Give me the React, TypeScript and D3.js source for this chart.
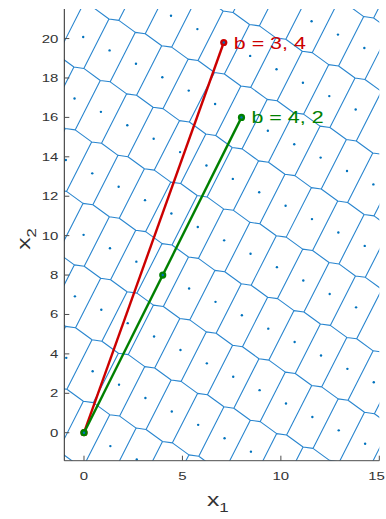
import { useEffect, useRef } from 'react';
import * as d3 from 'd3';

// lattice basis
const basisU = [1.78, 2.44];
const basisV = [0.44, 3.12];

// the two coefficient vectors drawn from the origin
const vectorNames = ['b = 3, 4', 'b = 4, 2'];
const vectorCoeffs = [[3, 4], [4, 2]];
const vectorColors = ['#cc0000', '#008000'];

const xTicks = [0, 5, 10, 15];
const yTicks = [0, 2, 4, 6, 8, 10, 12, 14, 16, 18, 20];
const xDomain = [-1, 15];
const yDomain = [-1.42, 21.5];

const W = 386;
const H = 519;
const STRETCH = 1.3;

const gcd = (a: number, b: number): number => (b === 0 ? Math.abs(a) : gcd(b, a % b));

const App = () => {
  const svgRef = useRef<SVGSVGElement>(null);

  useEffect(() => {
    const svg = d3.select(svgRef.current);
    svg.selectAll('*').remove();

    const left = 64.3, right = 379.3, top = 9, bottom = 460.7;

    const x = d3.scaleLinear().domain(xDomain).range([left, right]);
    const y = d3.scaleLinear().domain(yDomain).range([bottom, top]);

    // lattice points, a bit past the view so the cells are right at the edges
    const pts: [number, number][] = [];
    for (let a = -25; a <= 25; a++) {
      for (let b = -25; b <= 25; b++) {
        const px = a * basisU[0] + b * basisV[0];
        const py = a * basisU[1] + b * basisV[1];
        if (px > xDomain[0] - 5 && px < xDomain[1] + 5 && py > yDomain[0] - 6 && py < yDomain[1] + 6) {
          pts.push([px, py]);
        }
      }
    }
    const screen = pts.map(p => [x(p[0]), y(p[1])] as [number, number]);

    svg.append('defs').append('clipPath').attr('id', 'plotclip')
      .append('rect').attr('x', left).attr('y', top)
      .attr('width', right - left).attr('height', bottom - top);

    const plot = svg.append('g').attr('clip-path', 'url(#plotclip)');

    const voronoi = d3.Delaunay.from(screen).voronoi([left - 200, top - 200, right + 200, bottom + 200]);
    plot.append('path')
      .attr('d', voronoi.render())
      .attr('fill', 'none')
      .attr('stroke', '#2a86cf')
      .attr('stroke-width', 1.1);

    // coefficient vectors
    vectorCoeffs.forEach((c, i) => {
      const g = gcd(c[0], c[1]);
      const marks = d3.range(g + 1).map(k => {
        const a = (c[0] * k) / g, b = (c[1] * k) / g;
        return [a * basisU[0] + b * basisV[0], a * basisU[1] + b * basisV[1]];
      });
      const end = marks[marks.length - 1];
      plot.append('line')
        .attr('x1', x(0)).attr('y1', y(0))
        .attr('x2', x(end[0])).attr('y2', y(end[1]))
        .attr('stroke', vectorColors[i])
        .attr('stroke-width', 2.4);
      marks.forEach(m => {
        plot.append('circle')
          .attr('cx', x(m[0])).attr('cy', y(m[1]))
          .attr('r', 3.6)
          .attr('fill', vectorColors[i]);
      });
    });

    plot.selectAll('circle.lat')
      .data(screen)
      .enter()
      .append('circle')
      .attr('class', 'lat')
      .attr('cx', d => d[0])
      .attr('cy', d => d[1])
      .attr('r', 1.2)
      .attr('fill', '#0072BD');

    // labels at vector ends
    vectorCoeffs.forEach((c, i) => {
      const ex = c[0] * basisU[0] + c[1] * basisV[0];
      const ey = c[0] * basisU[1] + c[1] * basisV[1];
      svg.append('text')
        .attr('transform', `translate(${x(ex) + 10},${y(ey) + 6}) scale(${STRETCH},1)`)
        .attr('fill', vectorColors[i])
        .style('font-family', 'Liberation Sans, Arial, sans-serif')
        .style('font-size', '16.5px')
        .text(vectorNames[i]);
    });

    // axes
    const axisColor = '#4d4d4d';
    svg.append('line').attr('x1', left).attr('x2', right).attr('y1', bottom).attr('y2', bottom)
      .attr('stroke', axisColor).attr('stroke-width', 1);
    svg.append('line').attr('x1', left).attr('x2', left).attr('y1', top).attr('y2', bottom)
      .attr('stroke', '#262626').attr('stroke-width', 1);

    const txt = (tx: number, ty: number, s: string, size: number, anchor: string) =>
      svg.append('text')
        .attr('transform', `translate(${tx},${ty}) scale(${STRETCH},1)`)
        .attr('text-anchor', anchor)
        .attr('fill', '#333333')
        .style('font-family', 'Liberation Sans, Arial, sans-serif')
        .style('font-size', `${size}px`)
        .text(s);

    xTicks.forEach(t => {
      svg.append('line').attr('x1', x(t)).attr('x2', x(t)).attr('y1', bottom).attr('y2', bottom - 5)
        .attr('stroke', axisColor);
      // keep the last label inside the page
      txt(Math.min(x(t), W - 9.5), bottom + 19, String(t), 11.5, 'middle');
    });
    yTicks.forEach(t => {
      svg.append('line').attr('x1', left).attr('x2', left + 5).attr('y1', y(t)).attr('y2', y(t))
        .attr('stroke', axisColor);
      txt(left - 6, y(t) + 4, String(t), 11.5, 'end');
    });

    // x1 label
    const xl = svg.append('text')
      .attr('transform', `translate(${(left + right) / 2 - 4},${506}) scale(${STRETCH},1)`)
      .attr('text-anchor', 'middle')
      .attr('fill', '#333333')
      .style('font-family', 'Liberation Sans, Arial, sans-serif')
      .style('font-size', '19px');
    xl.append('tspan').text('x');
    xl.append('tspan').attr('dy', 6).style('font-size', '13px').text('1');

    // x2 label
    const yl = svg.append('text')
      .attr('transform', `translate(30,${(top + bottom) / 2 + 4}) scale(1,${STRETCH}) rotate(-90)`)
      .attr('text-anchor', 'middle')
      .attr('fill', '#333333')
      .style('font-family', 'Liberation Sans, Arial, sans-serif')
      .style('font-size', '19px');
    yl.append('tspan').text('x');
    yl.append('tspan').attr('dy', 6).style('font-size', '13px').text('2');
  }, []);

  return (
    <svg
      ref={svgRef}
      width={W}
      height={H}
      style={{ position: 'absolute', left: 0, top: 0, background: '#fff' }}
    />
  );
};

export default App;
